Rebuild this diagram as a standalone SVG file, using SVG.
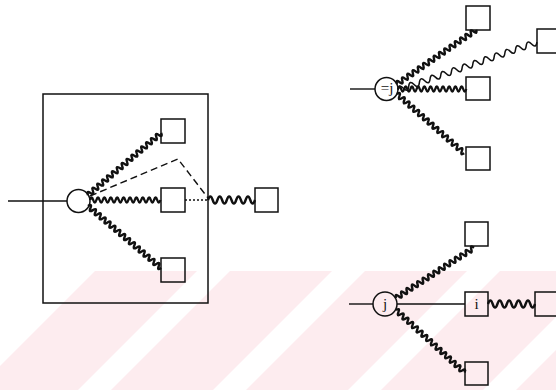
<svg xmlns="http://www.w3.org/2000/svg" width="556" height="390" viewBox="0 0 556 390">
<style>
.bg{fill:#fdecef;stroke:none}
.nd{fill:none;stroke:#111;stroke-width:1.5}
.ln{fill:none;stroke:#111;stroke-width:1.4}
.wv{fill:none;stroke:#111;stroke-width:2.4;stroke-linejoin:round}
.wt{fill:none;stroke:#111;stroke-width:1.5}
.tx{font-family:"Liberation Serif",serif;font-size:15px;fill:#111;text-anchor:middle}
</style>
<defs>
<path id="w96" d="M0,0 q1.6,-5 3.2,0 t3.2,0 t3.2,0 t3.2,0 t3.2,0 t3.2,0 t3.2,0 t3.2,0 t3.2,0 t3.2,0 t3.2,0 t3.2,0 t3.2,0 t3.2,0 t3.2,0 t3.2,0 t3.2,0 t3.2,0 t3.2,0 t3.2,0 t3.2,0 t3.2,0 t3.2,0 t3.2,0 t3.2,0 t3.2,0 t3.2,0 t3.2,0 t3.2,0 t3.2,0"/>
<path id="w93" d="M0,0 q1.6,-5 3.2,0 t3.2,0 t3.2,0 t3.2,0 t3.2,0 t3.2,0 t3.2,0 t3.2,0 t3.2,0 t3.2,0 t3.2,0 t3.2,0 t3.2,0 t3.2,0 t3.2,0 t3.2,0 t3.2,0 t3.2,0 t3.2,0 t3.2,0 t3.2,0 t3.2,0 t3.2,0 t3.2,0 t3.2,0 t3.2,0 t3.2,0 t3.2,0 t3.2,0"/>
<path id="w90" d="M0,0 q1.6,-5 3.2,0 t3.2,0 t3.2,0 t3.2,0 t3.2,0 t3.2,0 t3.2,0 t3.2,0 t3.2,0 t3.2,0 t3.2,0 t3.2,0 t3.2,0 t3.2,0 t3.2,0 t3.2,0 t3.2,0 t3.2,0 t3.2,0 t3.2,0 t3.2,0 t3.2,0 t3.2,0 t3.2,0 t3.2,0 t3.2,0 t3.2,0 t3.2,0"/>
<path id="w70" d="M0,0 q1.6,-5 3.2,0 t3.2,0 t3.2,0 t3.2,0 t3.2,0 t3.2,0 t3.2,0 t3.2,0 t3.2,0 t3.2,0 t3.2,0 t3.2,0 t3.2,0 t3.2,0 t3.2,0 t3.2,0 t3.2,0 t3.2,0 t3.2,0 t3.2,0 t3.2,0 t3.2,0"/>
<path id="wb" d="M0,0 q2.35,-7 4.7,0 t4.7,0 t4.7,0 t4.7,0 t4.7,0 t4.7,0 t4.7,0 t4.7,0 t4.7,0 t4.7,0"/>
<path id="wl" d="M0,0 q2.83,-6 5.65,0 t5.65,0 t5.65,0 t5.65,0 t5.65,0 t5.65,0 t5.65,0 t5.65,0 t5.65,0 t5.65,0 t5.65,0 t5.65,0 t5.65,0 t5.65,0 t5.65,0 t5.65,0 t5.65,0 t5.65,0 t5.65,0 t5.65,0 t5.65,0 t5.65,0 t5.65,0 t5.65,0 t5.65,0 t5.65,0"/>
</defs>
<g id="watermark">
<polygon class="bg" points="95,271 197,271 78,390 -24,390"/>
<polygon class="bg" points="230,271 332,271 213,390 111,390"/>
<polygon class="bg" points="365,271 467,271 348,390 246,390"/>
<polygon class="bg" points="500,271 602,271 483,390 381,390"/>
<polygon class="bg" points="635,271 737,271 618,390 516,390"/>
</g>
<g id="connectors">
<line class="ln" x1="8" y1="201" x2="67" y2="201"/>
<use href="#w96" class="wv" transform="translate(88,195) rotate(-40.3)"/>
<use href="#w70" class="wv" transform="translate(90,200)"/>
<use href="#w96" class="wv" transform="translate(88,206) rotate(40.3)"/>
<path class="ln" d="M90,196 L178,159 L208,198" stroke-dasharray="7,4" stroke-width="1.8"/>
<line class="ln" x1="185" y1="200" x2="208" y2="200" stroke-dasharray="2,2"/>
<use href="#wb" class="wv" transform="translate(208,200)"/>
<line class="ln" x1="350" y1="89" x2="375" y2="89"/>
<use href="#w96" class="wv" transform="translate(397,84) rotate(-34.4)"/>
<use href="#wl" class="wt" transform="translate(398,90) rotate(-19)"/>
<use href="#w70" class="wv" transform="translate(398,89) scale(0.97,1)"/>
<use href="#w90" class="wv" transform="translate(397,94) rotate(41.4)"/>
<line class="ln" x1="349" y1="304" x2="373" y2="304"/>
<use href="#w93" class="wv" transform="translate(396,298) rotate(-32.8)"/>
<line class="ln" x1="397" y1="304" x2="465" y2="304"/>
<use href="#w93" class="wv" transform="translate(396,310) rotate(42.4)"/>
<use href="#wb" class="wv" transform="translate(488,304)"/>
</g>
<g id="box"><rect class="nd" x="43" y="94" width="165" height="209"/></g>
<g id="c1"><circle class="nd" cx="78.5" cy="201" r="11.5"/></g>
<g id="s1"><rect class="nd" x="161" y="119" width="24" height="24"/></g>
<g id="s2"><rect class="nd" x="161" y="188" width="24" height="24"/></g>
<g id="s3"><rect class="nd" x="161" y="258" width="24" height="24"/></g>
<g id="s4"><rect class="nd" x="255" y="188" width="23" height="24"/></g>
<g id="c2"><circle class="nd" cx="386.5" cy="89" r="11.5"/><text class="tx" x="387" y="93" font-size="12">=j</text></g>
<g id="s5"><rect class="nd" x="466" y="6" width="24" height="24"/></g>
<g id="s6"><rect class="nd" x="537" y="29" width="24" height="24"/></g>
<g id="s7"><rect class="nd" x="466" y="77" width="24" height="23"/></g>
<g id="s8"><rect class="nd" x="466" y="147" width="24" height="23"/></g>
<g id="c3"><circle class="nd" cx="385" cy="304" r="12"/><text class="tx" x="385" y="309">j</text></g>
<g id="s9"><rect class="nd" x="465" y="222" width="23" height="24"/></g>
<g id="s10"><rect class="nd" x="465" y="292" width="23" height="24"/><text class="tx" x="476.5" y="309">i</text></g>
<g id="s11"><rect class="nd" x="535" y="292" width="24" height="24"/></g>
<g id="s12"><rect class="nd" x="465" y="362" width="23" height="23"/></g>
</svg>
